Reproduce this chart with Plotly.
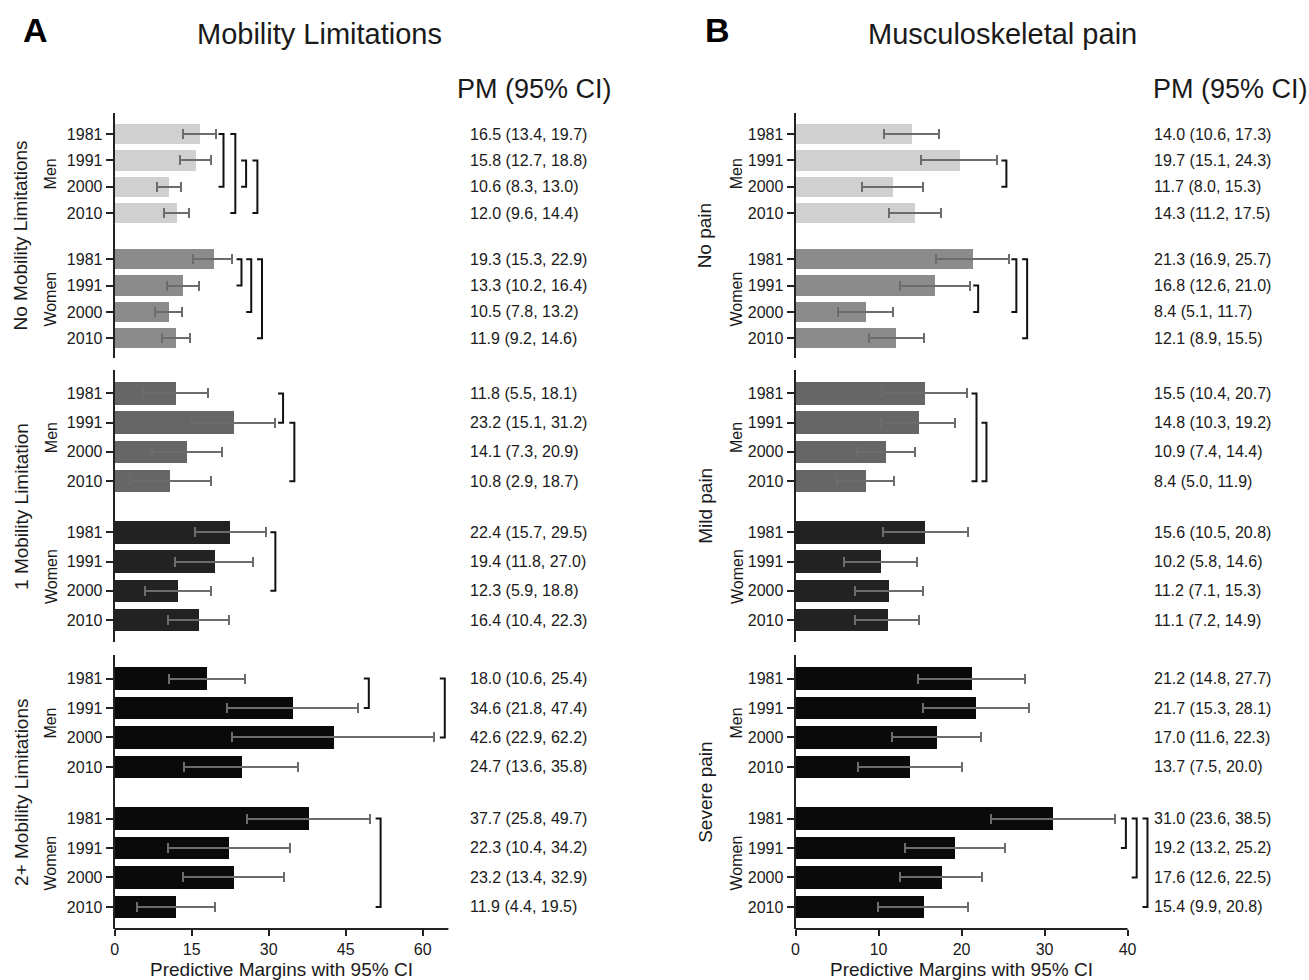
import plotly.graph_objects as go

# ---------------- data ----------------
YEARS = ["1981", "1991", "2000", "2010"]
SEXES = ["Men", "Women"]

A_TITLE = "Mobility Limitations"
A_GROUPS = ["No Mobility Limitations", "1 Mobility Limitation", "2+ Mobility Limitations"]
A_PM = [
    [16.5, 15.8, 10.6, 12.0, 19.3, 13.3, 10.5, 11.9],
    [11.8, 23.2, 14.1, 10.8, 22.4, 19.4, 12.3, 16.4],
    [18.0, 34.6, 42.6, 24.7, 37.7, 22.3, 23.2, 11.9],
]
A_LO = [
    [13.4, 12.7, 8.3, 9.6, 15.3, 10.2, 7.8, 9.2],
    [5.5, 15.1, 7.3, 2.9, 15.7, 11.8, 5.9, 10.4],
    [10.6, 21.8, 22.9, 13.6, 25.8, 10.4, 13.4, 4.4],
]
A_HI = [
    [19.7, 18.8, 13.0, 14.4, 22.9, 16.4, 13.2, 14.6],
    [18.1, 31.2, 20.9, 18.7, 29.5, 27.0, 18.8, 22.3],
    [25.4, 47.4, 62.2, 35.8, 49.7, 34.2, 32.9, 19.5],
]
# significance brackets: (from row, to row, x position)
A_BRACKETS = [
    [(0, 2, 21.2), (0, 3, 23.5), (1, 2, 25.6), (1, 3, 27.8), (4, 5, 24.7), (4, 6, 26.6), (4, 7, 28.7)],
    [(0, 1, 32.8), (1, 3, 35.0), (4, 6, 31.3)],
    [(0, 1, 49.5), (0, 2, 64.3), (4, 7, 51.8)],
]

B_TITLE = "Musculoskeletal pain"
B_GROUPS = ["No pain", "Mild pain", "Severe pain"]
B_PM = [
    [14.0, 19.7, 11.7, 14.3, 21.3, 16.8, 8.4, 12.1],
    [15.5, 14.8, 10.9, 8.4, 15.6, 10.2, 11.2, 11.1],
    [21.2, 21.7, 17.0, 13.7, 31.0, 19.2, 17.6, 15.4],
]
B_LO = [
    [10.6, 15.1, 8.0, 11.2, 16.9, 12.6, 5.1, 8.9],
    [10.4, 10.3, 7.4, 5.0, 10.5, 5.8, 7.1, 7.2],
    [14.8, 15.3, 11.6, 7.5, 23.6, 13.2, 12.6, 9.9],
]
B_HI = [
    [17.3, 24.3, 15.3, 17.5, 25.7, 21.0, 11.7, 15.5],
    [20.7, 19.2, 14.4, 11.9, 20.8, 14.6, 15.3, 14.9],
    [27.7, 28.1, 22.3, 20.0, 38.5, 25.2, 22.5, 20.8],
]
B_BRACKETS = [
    [(1, 2, 25.4), (5, 6, 22.0), (4, 6, 26.6), (4, 7, 27.9)],
    [(0, 3, 21.8), (1, 3, 23.0)],
    [(4, 5, 39.8), (4, 6, 41.1), (4, 7, 42.4)],
]

A_TICKS = [0, 15, 30, 45, 60]
B_TICKS = [0, 10, 20, 30, 40]

# ---------------- layout constants ----------------
W, H = 1309, 980
FONT = "Liberation Sans, Arial, Helvetica, sans-serif"
TXT = "#1a1a1a"
ROW_POS = [0, 1, 2, 3, 4.75, 5.75, 6.75, 7.75]
Y_RANGE = [8.5, -0.8]
GROUP_COLORS = [("#d0d0d0", "#8b8b8b"), ("#666666", "#222222"), ("#0a0a0a", "#0a0a0a")]
ERR_COLOR = "#6c6c6c"
GROUP_PIX = [(113, 358), (370, 642), (655, 929)]  # top, bottom pixel of each group

PANELS = [
    dict(title=A_TITLE, groups=A_GROUPS, pm=A_PM, lo=A_LO, hi=A_HI, brackets=A_BRACKETS,
         ticks=A_TICKS, axis_max=65, range_max=65, x0px=111, pxu=5.15,
         letter="A", letter_x=32, title_x=316, grp_x=17, sex_x=47, val_x=465, pm_x=532),
    dict(title=B_TITLE, groups=B_GROUPS, pm=B_PM, lo=B_LO, hi=B_HI, brackets=B_BRACKETS,
         ticks=B_TICKS, axis_max=40, range_max=43, x0px=794, pxu=8.325,
         letter="B", letter_x=716, title_x=1002, grp_x=703, sex_x=735, val_x=1152, pm_x=1230),
]


def px(x):
    return x / W


def py(y):
    return 1 - y / H


fig = go.Figure()
shapes = []
annotations = []
layout_axes = {}

k = 0
for p, P in enumerate(PANELS):
    xd = [px(P["x0px"]), px(P["x0px"] + P["range_max"] * P["pxu"])]
    arm = 5.0 / P["pxu"]
    for g in range(3):
        k += 1
        xa = "x" if k == 1 else f"x{k}"
        ya = "y" if k == 1 else f"y{k}"
        xname = "xaxis" if k == 1 else f"xaxis{k}"
        yname = "yaxis" if k == 1 else f"yaxis{k}"
        top, bot = GROUP_PIX[g]
        pm, lo, hi = P["pm"][g], P["lo"][g], P["hi"][g]
        cols = [GROUP_COLORS[g][0]] * 4 + [GROUP_COLORS[g][1]] * 4
        fig.add_trace(go.Bar(
            x=pm, y=ROW_POS, orientation="h", width=0.77,
            marker=dict(color=cols, line=dict(width=0)),
            error_x=dict(type="data", symmetric=False,
                         array=[h - m for h, m in zip(hi, pm)],
                         arrayminus=[m - l for m, l in zip(pm, lo)],
                         color=ERR_COLOR, thickness=2, width=5),
            xaxis=xa, yaxis=ya, showlegend=False, hoverinfo="skip",
        ))
        bottom = (g == 2)
        layout_axes[xname] = dict(
            domain=xd, range=[0, P["range_max"]], anchor=ya,
            showgrid=False, zeroline=False, showline=False,
            showticklabels=bottom, ticks="outside" if bottom else "",
            tickvals=P["ticks"], ticklen=6, tickwidth=1.5, tickcolor="#222",
            tickfont=dict(size=16, color=TXT, family=FONT), fixedrange=True,
        )
        layout_axes[yname] = dict(
            domain=[py(bot), py(top)], range=Y_RANGE, anchor=xa,
            showgrid=False, zeroline=False, showline=True, linewidth=2, linecolor="#222",
            tickvals=ROW_POS, ticktext=YEARS * 2, ticks="outside", ticklen=7,
            tickwidth=1.5, tickcolor="#222",
            tickfont=dict(size=16, color=TXT, family=FONT), fixedrange=True,
        )
        # x axis line on bottom group
        if bottom:
            shapes.append(dict(type="line", xref=f"{xa} domain", yref=f"{ya} domain",
                               x0=0, x1=P["axis_max"] / P["range_max"], y0=0, y1=0,
                               line=dict(color="#222", width=2)))
            annotations.append(dict(text="Predictive Margins with 95% CI", showarrow=False,
                                    xref=f"{xa} domain", x=P["axis_max"] / 2 / P["range_max"],
                                    yref="paper", y=py(969), xanchor="center", yanchor="middle",
                                    font=dict(size=19, color=TXT, family=FONT)))
        # brackets
        for (r0, r1, bx) in P["brackets"][g]:
            y0, y1 = ROW_POS[r0], ROW_POS[r1]
            path = f"M {bx - arm},{y0} L {bx},{y0} L {bx},{y1} L {bx - arm},{y1}"
            shapes.append(dict(type="path", xref=xa, yref=ya, path=path,
                               line=dict(color="#111", width=2)))
        # group label
        annotations.append(dict(text=P["groups"][g], textangle=-90, showarrow=False,
                                xref="paper", x=px(P["grp_x"]), yref=f"{ya} domain", y=0.5,
                                xanchor="center", yanchor="middle",
                                font=dict(size=19, color=TXT, family=FONT)))
        # sex labels
        for s, sex in enumerate(SEXES):
            rows = ROW_POS[s * 4:(s + 1) * 4]
            annotations.append(dict(text=sex, textangle=-90, showarrow=False,
                                    xref="paper", x=px(P["sex_x"]), yref=ya,
                                    y=sum(rows) / 4, xanchor="center", yanchor="middle",
                                    font=dict(size=16, color=TXT, family=FONT)))
        # value texts
        for i in range(8):
            annotations.append(dict(text=f"{pm[i]:.1f} ({lo[i]:.1f}, {hi[i]:.1f})",
                                    showarrow=False, xref="paper", x=px(P["val_x"]),
                                    yref=ya, y=ROW_POS[i], xanchor="left", yanchor="middle",
                                    font=dict(size=16, color=TXT, family=FONT)))
    # panel titles
    annotations.append(dict(text=f"<b>{P['letter']}</b>", showarrow=False, xref="paper",
                            x=px(P["letter_x"]), yref="paper", y=py(30),
                            xanchor="center", yanchor="middle",
                            font=dict(size=34, color="#000", family=FONT)))
    annotations.append(dict(text=P["title"], showarrow=False, xref="paper",
                            x=px(P["title_x"]), yref="paper", y=py(34),
                            xanchor="center", yanchor="middle",
                            font=dict(size=29, color=TXT, family=FONT)))
    annotations.append(dict(text="PM (95% CI)", showarrow=False, xref="paper",
                            x=px(P["pm_x"]), yref="paper", y=py(89),
                            xanchor="center", yanchor="middle",
                            font=dict(size=27, color=TXT, family=FONT)))

fig.update_layout(
    width=W, height=H, margin=dict(l=0, r=0, t=0, b=0),
    paper_bgcolor="white", plot_bgcolor="white",
    font=dict(family=FONT, color=TXT),
    bargap=0, shapes=shapes, annotations=annotations,
    **layout_axes,
)

fig.write_html("out.html", config={"displayModeBar": False},
               post_script="document.body.style.margin='0';document.body.style.overflow='hidden';")
